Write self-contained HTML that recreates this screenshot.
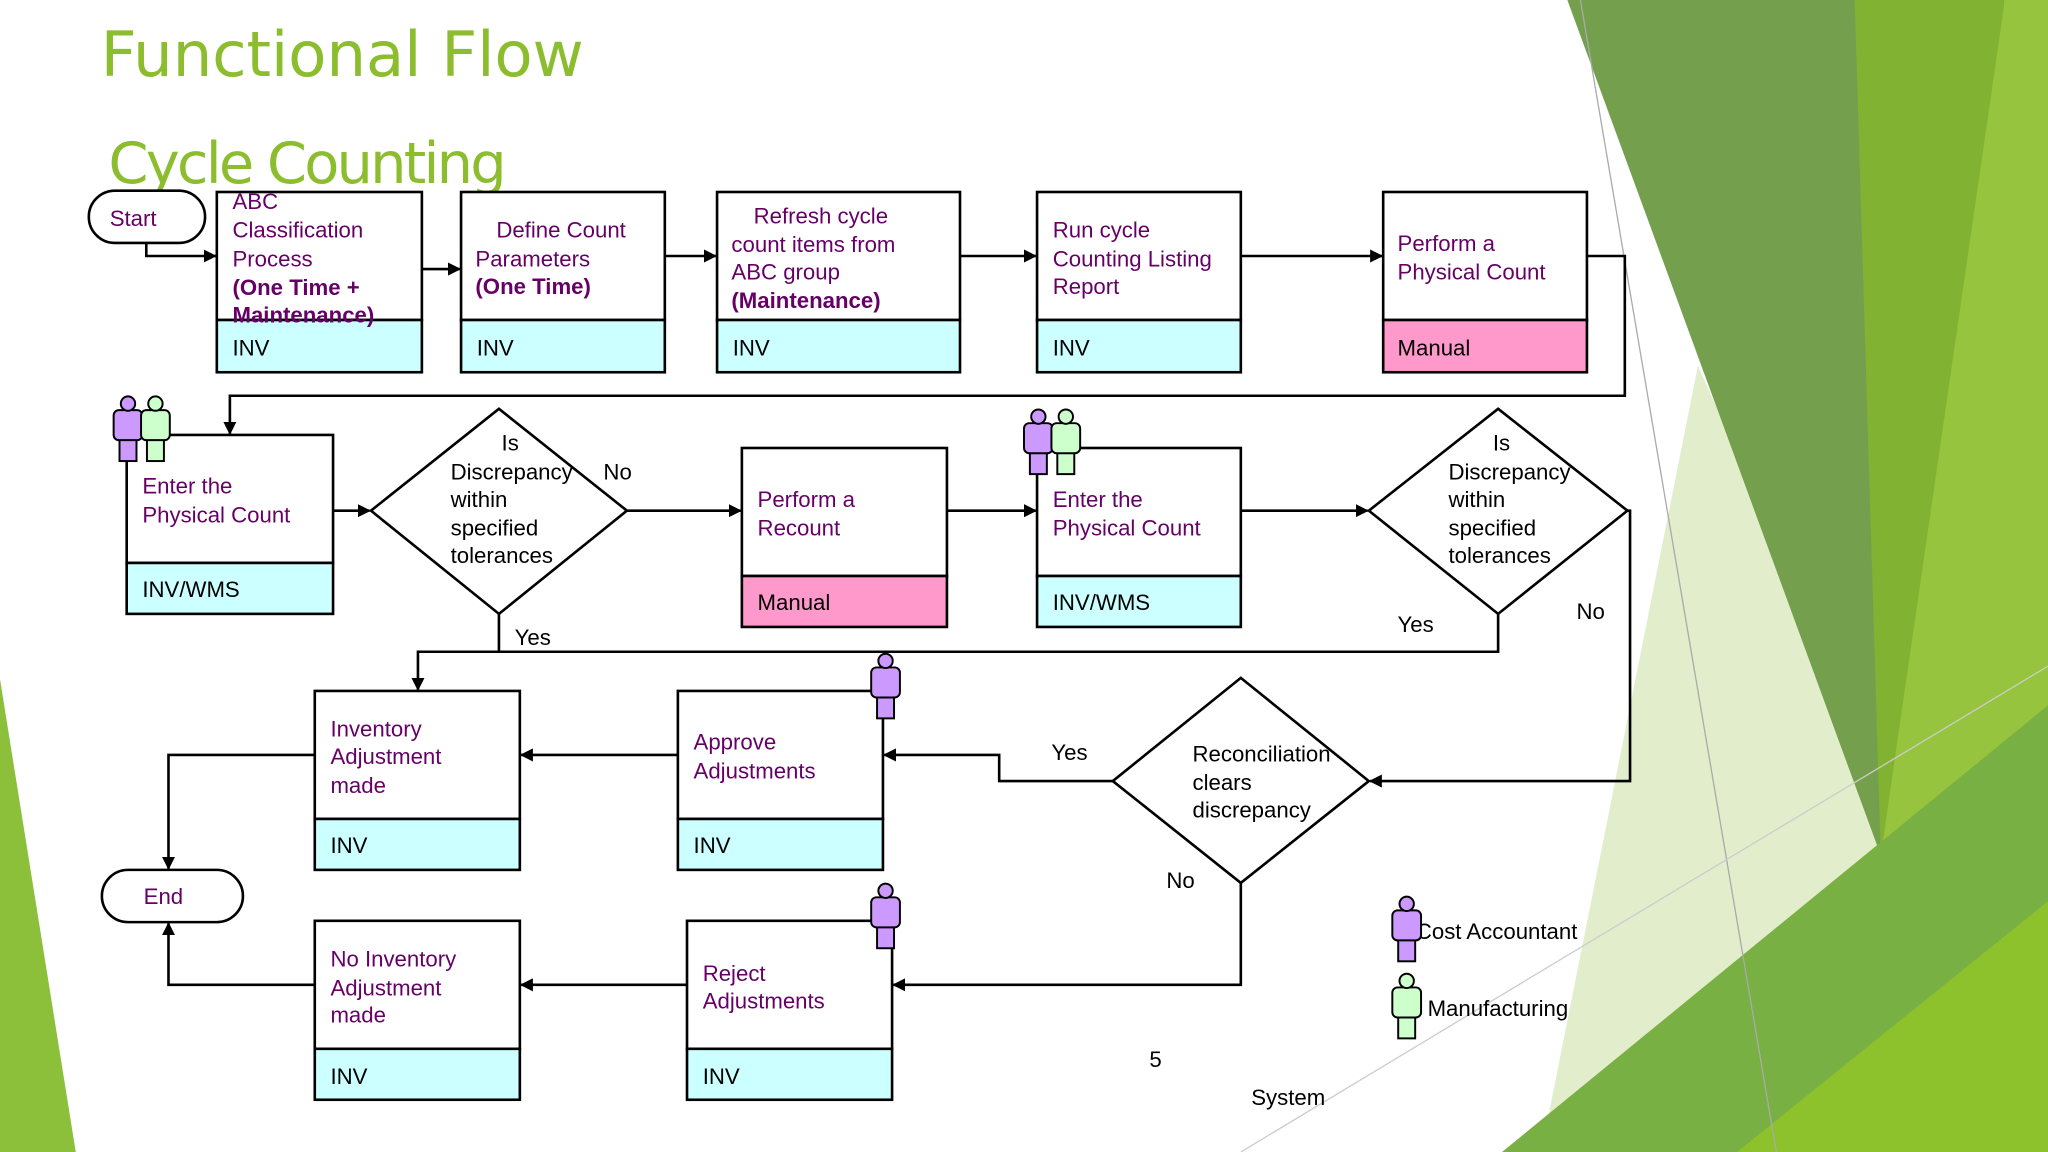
<!DOCTYPE html>
<html><head><meta charset="utf-8"><style>html,body{margin:0;padding:0;background:#fff}svg{display:block}</style></head><body>
<svg xmlns="http://www.w3.org/2000/svg" width="2048" height="1152" viewBox="0 0 1568 882">
<defs>
<marker id="a" markerWidth="10" markerHeight="10" refX="9" refY="5" orient="auto" markerUnits="userSpaceOnUse"><path d="M0,0 L10,5 L0,10 z" fill="#000"/></marker>
<g id="pp"><rect x="4.5" y="33" width="13" height="17" fill="#cc99ff" stroke="#000" stroke-width="1.5"/><rect x="0" y="11" width="22" height="23" rx="4" fill="#cc99ff" stroke="#000" stroke-width="1.5"/><circle cx="11" cy="6" r="5.5" fill="#cc99ff" stroke="#000" stroke-width="1.5"/></g>
<g id="pg"><rect x="4.5" y="33" width="13" height="17" fill="#ccffcc" stroke="#000" stroke-width="1.5"/><rect x="0" y="11" width="22" height="23" rx="4" fill="#ccffcc" stroke="#000" stroke-width="1.5"/><circle cx="11" cy="6" r="5.5" fill="#ccffcc" stroke="#000" stroke-width="1.5"/></g>
</defs>
<rect width="1568" height="882" fill="#fff"/>
<!-- background decorations -->
<polygon points="0,520 58,882 0,882" fill="#8cc03a"/>
<polygon points="1300,280 1568,882 1180,882" fill="#dbe9bf" opacity="0.8"/>
<polygon points="1200,0 1430,0 1470,560 1440,655" fill="#74a04e"/>
<polygon points="1420,0 1535,0 1480,420 1440,655" fill="#82b232"/>
<polygon points="1535,0 1568,0 1568,882 1420,882 1440,655" fill="#96c43e"/>
<polygon points="1150,882 1568,540 1568,882" fill="#78b044"/>
<polygon points="1330,882 1568,690 1568,882" fill="#8ec22c"/>
<line x1="1210" y1="0" x2="1360" y2="882" stroke="#aaa" stroke-width="1"/>
<line x1="950" y1="882" x2="1568" y2="510" stroke="#ccc" stroke-width="1"/>
<!-- titles -->
<g font-family="'DejaVu Sans', sans-serif" fill="#8cbd2e">
<text x="77" y="58" font-size="48" textLength="370">Functional Flow</text>
<text x="83" y="140" font-size="44" textLength="305">Cycle Counting</text>
</g>
<g font-family="'Liberation Sans', 'DejaVu Sans', sans-serif" font-size="17">
<!-- connectors -->
<g fill="none" stroke="#000" stroke-width="2">
<polyline points="112,186 112,196 165,196" marker-end="url(#a)"/>
<polyline points="323,206 352,206" marker-end="url(#a)"/>
<polyline points="509,196 548,196" marker-end="url(#a)"/>
<polyline points="735,196 793,196" marker-end="url(#a)"/>
<polyline points="950,196 1058,196" marker-end="url(#a)"/>
<polyline points="1215,196 1244,196 1244,303 176,303 176,332" marker-end="url(#a)"/>
<polyline points="255,391 283,391" marker-end="url(#a)"/>
<polyline points="480,391 567,391" marker-end="url(#a)"/>
<polyline points="725,391 793,391" marker-end="url(#a)"/>
<polyline points="950,391 1047,391" marker-end="url(#a)"/>
<polyline points="382,470 382,499 320,499 320,528" marker-end="url(#a)"/>
<polyline points="1147,470 1147,499 382,499"/>
<polyline points="1246,391 1248,391 1248,598 1049,598" marker-end="url(#a)"/>
<polyline points="852,598 765,598 765,578 677,578" marker-end="url(#a)"/>
<polyline points="950,676 950,754 684,754" marker-end="url(#a)"/>
<polyline points="519,578 399,578" marker-end="url(#a)"/>
<polyline points="241,578 129,578 129,665" marker-end="url(#a)"/>
<polyline points="526,754 399,754" marker-end="url(#a)"/>
<polyline points="241,754 129,754 129,707" marker-end="url(#a)"/>
</g>
<!-- start / end -->
<rect x="68" y="146" width="89" height="40" rx="20" fill="#fff" stroke="#000" stroke-width="2"/>
<text x="84" y="173" fill="#660066">Start</text>
<rect x="78" y="666" width="108" height="40" rx="20" fill="#fff" stroke="#000" stroke-width="2"/>
<text x="110" y="692" fill="#660066">End</text>
<!-- boxes -->
<g stroke="#000" stroke-width="2">
<rect x="166" y="147" width="157" height="98" fill="#fff"/><rect x="166" y="245" width="157" height="40" fill="#ccffff"/>
<rect x="353" y="147" width="156" height="98" fill="#fff"/><rect x="353" y="245" width="156" height="40" fill="#ccffff"/>
<rect x="549" y="147" width="186" height="98" fill="#fff"/><rect x="549" y="245" width="186" height="40" fill="#ccffff"/>
<rect x="794" y="147" width="156" height="98" fill="#fff"/><rect x="794" y="245" width="156" height="40" fill="#ccffff"/>
<rect x="1059" y="147" width="156" height="98" fill="#fff"/><rect x="1059" y="245" width="156" height="40" fill="#ff99cc"/>
<rect x="97" y="333" width="158" height="98" fill="#fff"/><rect x="97" y="431" width="158" height="39" fill="#ccffff"/>
<rect x="568" y="343" width="157" height="98" fill="#fff"/><rect x="568" y="441" width="157" height="39" fill="#ff99cc"/>
<rect x="794" y="343" width="156" height="98" fill="#fff"/><rect x="794" y="441" width="156" height="39" fill="#ccffff"/>
<rect x="241" y="529" width="157" height="98" fill="#fff"/><rect x="241" y="627" width="157" height="39" fill="#ccffff"/>
<rect x="519" y="529" width="157" height="98" fill="#fff"/><rect x="519" y="627" width="157" height="39" fill="#ccffff"/>
<rect x="241" y="705" width="157" height="98" fill="#fff"/><rect x="241" y="803" width="157" height="39" fill="#ccffff"/>
<rect x="526" y="705" width="157" height="98" fill="#fff"/><rect x="526" y="803" width="157" height="39" fill="#ccffff"/>
<polygon points="284,391 382,313 480,391 382,470" fill="#fff"/>
<polygon points="1048,391 1147,313 1246,391 1147,470" fill="#fff"/>
<polygon points="852,598 950,519 1048,598 950,676" fill="#fff"/>
</g>
<!-- box text -->
<g fill="#660066">
<text x="178" y="160">ABC</text>
<text x="178" y="182">Classification</text>
<text x="178" y="204">Process</text>
<text x="178" y="226" font-weight="bold">(One Time +</text>
<text x="178" y="247" font-weight="bold">Maintenance)</text>
<text x="380" y="182">Define Count</text>
<text x="364" y="204">Parameters</text>
<text x="364" y="225" font-weight="bold">(One Time)</text>
<text x="577" y="171">Refresh cycle</text>
<text x="560" y="193">count items from</text>
<text x="560" y="214">ABC group</text>
<text x="560" y="236" font-weight="bold">(Maintenance)</text>
<text x="806" y="182">Run cycle</text>
<text x="806" y="204">Counting Listing</text>
<text x="806" y="225">Report</text>
<text x="1070" y="192">Perform a</text>
<text x="1070" y="214">Physical Count</text>
<text x="109" y="378">Enter the</text>
<text x="109" y="400">Physical Count</text>
<text x="580" y="388">Perform a</text>
<text x="580" y="410">Recount</text>
<text x="806" y="388">Enter the</text>
<text x="806" y="410">Physical Count</text>
<text x="253" y="564">Inventory</text>
<text x="253" y="585">Adjustment</text>
<text x="253" y="607">made</text>
<text x="531" y="574">Approve</text>
<text x="531" y="596">Adjustments</text>
<text x="253" y="740">No Inventory</text>
<text x="253" y="762">Adjustment</text>
<text x="253" y="783">made</text>
<text x="538" y="751">Reject</text>
<text x="538" y="772">Adjustments</text>
</g>
<g fill="#000">
<text x="178" y="272">INV</text><text x="365" y="272">INV</text><text x="561" y="272">INV</text><text x="806" y="272">INV</text>
<text x="1070" y="272">Manual</text>
<text x="109" y="457">INV/WMS</text><text x="580" y="467">Manual</text><text x="806" y="467">INV/WMS</text>
<text x="253" y="653">INV</text><text x="531" y="653">INV</text><text x="253" y="830">INV</text><text x="538" y="830">INV</text>
<text x="384" y="345">Is</text><text x="345" y="367">Discrepancy</text><text x="345" y="388">within</text><text x="345" y="410">specified</text><text x="345" y="431">tolerances</text>
<text x="1143" y="345">Is</text><text x="1109" y="367">Discrepancy</text><text x="1109" y="388">within</text><text x="1109" y="410">specified</text><text x="1109" y="431">tolerances</text>
<text x="913" y="583">Reconciliation</text><text x="913" y="605">clears</text><text x="913" y="626">discrepancy</text>
<text x="462" y="367">No</text><text x="394" y="494">Yes</text><text x="1070" y="484">Yes</text><text x="1207" y="474">No</text>
<text x="805" y="582">Yes</text><text x="893" y="680">No</text>
<text x="1084" y="719">Cost Accountant</text><text x="1093" y="778">Manufacturing</text>
<text x="880" y="817">5</text><text x="958" y="846">System</text>
</g>
</g>
<!-- people -->
<use href="#pp" x="87" y="303"/><use href="#pg" x="108" y="303"/>
<use href="#pp" x="784" y="313"/><use href="#pg" x="805" y="313"/>
<use href="#pp" x="667" y="500"/><use href="#pp" x="667" y="676"/>
<use href="#pp" x="1066" y="686"/><use href="#pg" x="1066" y="745"/>
</svg>
</body></html>
